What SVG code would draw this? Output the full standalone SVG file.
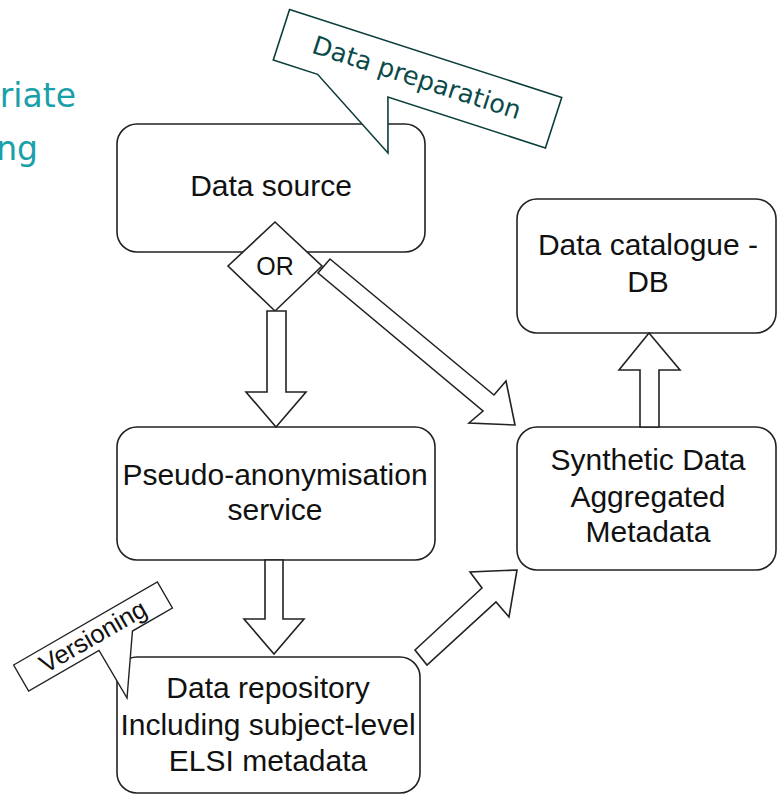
<svg xmlns="http://www.w3.org/2000/svg" width="777" height="796" viewBox="0 0 777 796">
<style>
.box{fill:#fff;stroke:#222;stroke-width:1.6}
.arr{fill:#fff;stroke:#222;stroke-width:1.6;stroke-linejoin:miter}
.lbl{font-family:"Liberation Sans",Arial,sans-serif;font-size:30px;fill:#111;text-anchor:middle}
.teal{font-family:"DejaVu Sans",sans-serif;font-size:33px;fill:#1aa0a8}
</style>
<rect width="777" height="796" fill="#fff"/>
<g id="title-fragment">
<text class="teal" x="76" y="107" text-anchor="end">riate</text>
<text class="teal" x="38" y="160" text-anchor="end">ng</text>
</g>
<g id="data-source">
<rect class="box" x="117" y="124" width="308" height="128" rx="20"/>
<text class="lbl" x="271" y="196">Data source</text>
</g>
<g id="or-gate">
<polygon class="box" points="275,222 322,266 275,311 228,266"/>
<text class="lbl" x="275" y="275" style="font-size:25px">OR</text>
</g>
<g id="pseudo-anonymisation">
<rect class="box" x="117" y="427" width="318" height="133" rx="20"/>
<text class="lbl" x="275" y="485">Pseudo-anonymisation</text>
<text class="lbl" x="275" y="520">service</text>
</g>
<g id="data-repository">
<rect class="box" x="117" y="657" width="303" height="136" rx="20"/>
<text class="lbl" x="268" y="698">Data repository</text>
<text class="lbl" x="268" y="735">Including subject-level</text>
<text class="lbl" x="268" y="771">ELSI metadata</text>
</g>
<g id="data-catalogue">
<rect class="box" x="517" y="199" width="259" height="134" rx="20"/>
<text class="lbl" x="648" y="255">Data catalogue -</text>
<text class="lbl" x="648" y="292">DB</text>
</g>
<g id="synthetic-data">
<rect class="box" x="517" y="427" width="259" height="143" rx="20"/>
<text class="lbl" x="648" y="470">Synthetic Data</text>
<text class="lbl" x="648" y="507">Aggregated</text>
<text class="lbl" x="648" y="542">Metadata</text>
</g>
<g id="connectors">
<polygon class="arr" points="267,311 286,311 286,392 306,392 276,427 246,392 267,392"/>
<polygon class="arr" points="318,273 330,259 494,395 506,381 515,425 469,423 483,411"/>
<polygon class="arr" points="265,560 283,560 283,619 304,619 274,654 244,619 265,619"/>
<polygon class="arr" points="415,650 482,588 470,572 517,570 509,617 496,602 427,665"/>
<polygon class="arr" points="640,427 659,427 659,370 680,370 649,333 619,370 640,370"/>
</g>
<g id="callout-data-preparation" transform="translate(417.5,78.75) rotate(17.9)">
<path d="M-143,-26.5 H143 V26.5 H-22.5 L-5.3,79.7 L-96.4,26.5 H-143 Z" fill="#fff" stroke="#0b3d3a" stroke-width="1.6"/>
<text x="-1" y="8" text-anchor="middle" font-family="DejaVu Sans,sans-serif" font-size="25.5" fill="#0a4a48">Data preparation</text>
</g>
<g id="callout-versioning" transform="translate(93,636.5) rotate(-30)">
<path d="M-83,-15 H83 V15 H36.9 L-1.3,70.3 L-1.7,15 H-83 Z" fill="#fff" stroke="#222" stroke-width="1.4"/>
<text x="0" y="8.5" text-anchor="middle" font-family="Liberation Sans,Arial,sans-serif" font-size="25.5" fill="#111">Versioning</text>
</g>
</svg>
